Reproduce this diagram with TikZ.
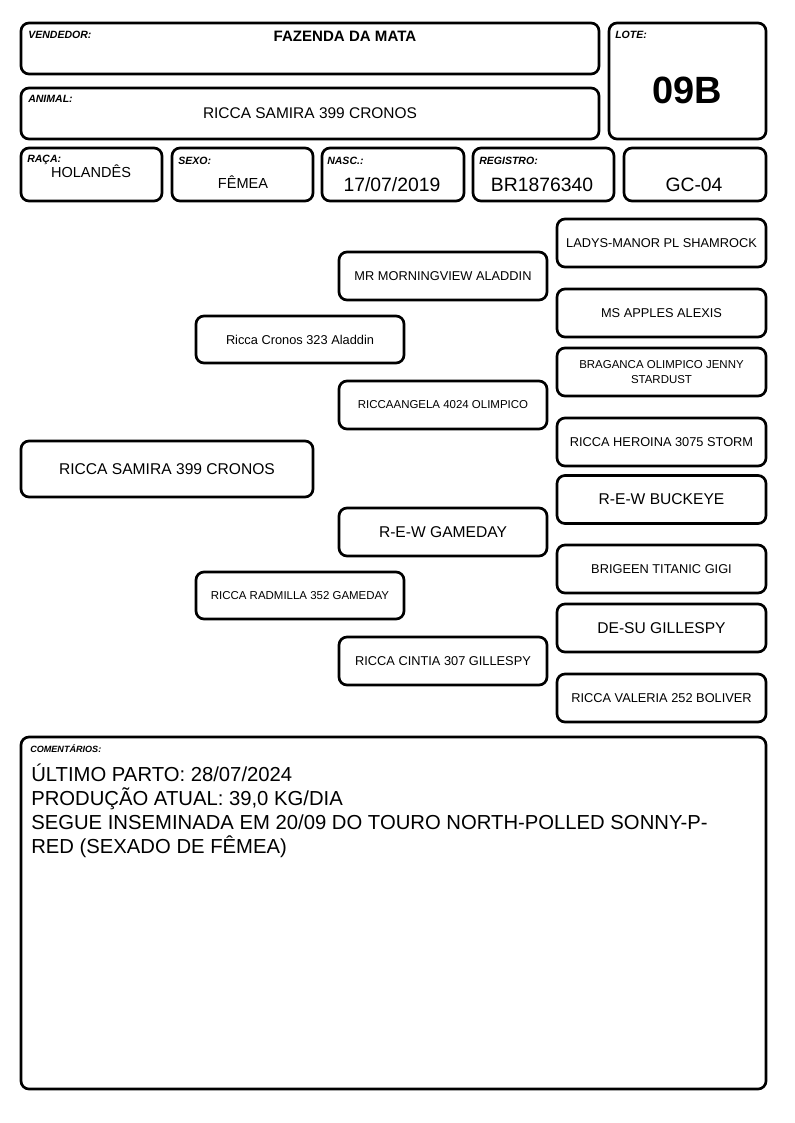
\documentclass[tikz,border=0pt]{standalone}
\usepackage{fontspec}
\setmainfont{Liberation Sans}
\begin{document}
\begin{tikzpicture}[x=0.75pt,y=-0.75pt,
  box/.style={draw, line width=2pt, rounded corners=6pt, inner sep=0pt, outer sep=0pt, align=center},
  lbl/.style={anchor=base west, inner sep=0pt, font=\fontsize{7.9}{9}\selectfont\bfseries\itshape},
  val/.style={anchor=base, inner sep=0pt},
  midw/.style={box, minimum width=156pt, minimum height=36pt},
  rightw/.style={box, minimum width=156.75pt, minimum height=36pt},
  fA/.style={font=\fontsize{9.6}{11}\selectfont},
  fB/.style={font=\fontsize{8.6}{11.25}\selectfont},
  fC/.style={font=\fontsize{11.7}{13}\selectfont},
  cline/.style={anchor=base west, inner sep=0pt, font=\fontsize{15.2}{18}\selectfont}
]
\path[use as bounding box] (0,0) rectangle (794,1123);

% header boxes
\node[box, minimum width=433.5pt, minimum height=38.25pt] (vend) at (310,48.5) {};
\node[box, minimum width=433.5pt, minimum height=38.25pt] (anim) at (310,113.5) {};
\node[box, minimum width=117.75pt, minimum height=87pt] (lote) at (687.5,81) {};
\node[box, minimum width=105.75pt, minimum height=39.75pt] (raca) at (91.5,174.5) {};
\node[box, minimum width=105.75pt, minimum height=39.75pt] (sexo) at (242.5,174.5) {};
\node[box, minimum width=106.5pt, minimum height=39.75pt] (nasc) at (393,174.5) {};
\node[box, minimum width=105.75pt, minimum height=39.75pt] (reg) at (543.5,174.5) {};
\node[box, minimum width=106.5pt, minimum height=39.75pt] (gc) at (695,174.5) {};

\node[lbl] (vendl) at (28,39) {VENDEDOR:};
\node[val, font=\fontsize{11.3}{13}\selectfont\bfseries] (vendv) at (345,42) {FAZENDA DA MATA};
\node[lbl] (animl) at (28,103) {ANIMAL:};
\node[val, font=\fontsize{11.6}{13}\selectfont] (animv) at (310,119) {RICCA SAMIRA 399 CRONOS};
\node[lbl] (lotel) at (615,39) {LOTE:};
\node[val, font=\fontsize{28.5}{30}\selectfont\bfseries] (lotev) at (687,104) {09B};
\node[lbl] (racal) at (27,163) {RAÇA:};
\node[val, font=\fontsize{10.9}{12}\selectfont] (racav) at (91,178) {HOLANDÊS};
\node[lbl] (sexol) at (178,165) {SEXO:};
\node[val, font=\fontsize{10.9}{12}\selectfont] (sexov) at (243,189) {FÊMEA};
\node[lbl] (nascl) at (327,165) {NASC.:};
\node[val, font=\fontsize{14.5}{16}\selectfont] (nascv) at (392,192) {17/07/2019};
\node[lbl] (regl) at (479,165) {REGISTRO:};
\node[val, font=\fontsize{14.5}{16}\selectfont] (regv) at (542,192) {BR1876340};
\node[val, font=\fontsize{14.5}{16}\selectfont] (gcv) at (694,192) {GC-04};

% pedigree
\node[box, minimum width=219pt, minimum height=42pt, font=\fontsize{11.7}{13}\selectfont] (subj) at (167,469) {RICCA SAMIRA 399 CRONOS};
\node[box, minimum width=156pt, minimum height=35.25pt, fA] (sire) at (300,339.5) {Ricca Cronos 323 Aladdin};
\node[box, minimum width=156pt, minimum height=35.25pt, fB] (dam) at (300,595.5) {RICCA RADMILLA 352 GAMEDAY};
\node[midw, fA] (pgs) at (443,276) {MR MORNINGVIEW ALADDIN};
\node[midw, fB] (pgd) at (443,405) {RICCAANGELA 4024 OLIMPICO};
\node[midw, fC] (mgs) at (443,532) {R-E-W GAMEDAY};
\node[midw, fA] (mgd) at (443,661) {RICCA CINTIA 307 GILLESPY};
\node[rightw, fA] (r1) at (661.5,243) {LADYS-MANOR PL SHAMROCK};
\node[rightw, fA] (r2) at (661.5,313) {MS APPLES ALEXIS};
\node[rightw, fB] (r3) at (661.5,372) {BRAGANCA OLIMPICO JENNY\\STARDUST};
\node[rightw, fA] (r4) at (661.5,442) {RICCA HEROINA 3075 STORM};
\node[rightw, fC] (r5) at (661.5,499.5) {R-E-W BUCKEYE};
\node[rightw, fA] (r6) at (661.5,569) {BRIGEEN TITANIC GIGI};
\node[rightw, fC] (r7) at (661.5,628) {DE-SU GILLESPY};
\node[rightw, fA] (r8) at (661.5,698) {RICCA VALERIA 252 BOLIVER};

% comments
\node[box, minimum width=558.75pt, minimum height=264pt] (com) at (393.5,913) {};
\node[lbl, font=\fontsize{6.8}{8}\selectfont\bfseries\itshape] (coml) at (30,752) {COMENTÁRIOS:};
\node[cline] (c1) at (31,781) {ÚLTIMO PARTO: 28/07/2024};
\node[cline] (c2) at (31,805) {PRODUÇÃO ATUAL: 39,0 KG/DIA};
\node[cline] (c3) at (31,829) {SEGUE INSEMINADA EM 20/09 DO TOURO NORTH-POLLED SONNY-P-};
\node[cline] (c4) at (31,853) {RED (SEXADO DE FÊMEA)};
\end{tikzpicture}
\end{document}
